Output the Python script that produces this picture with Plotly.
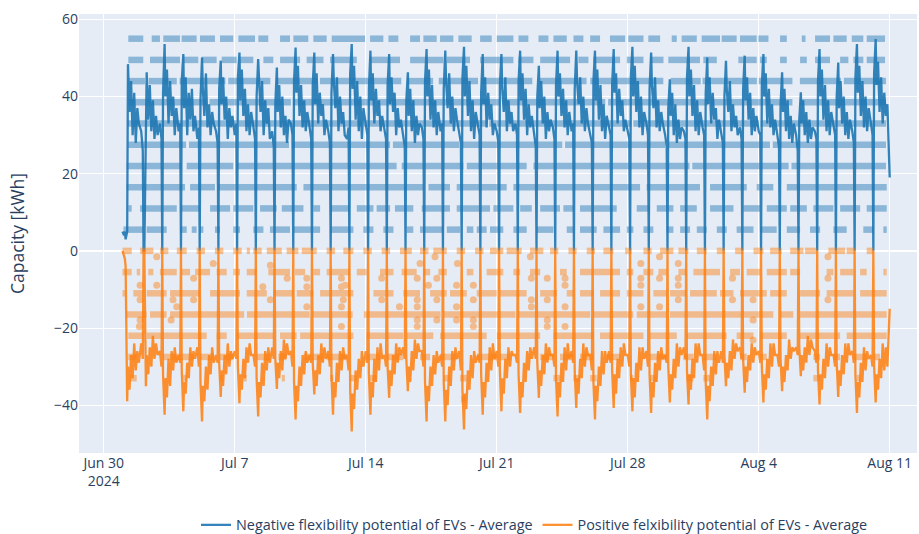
import pandas as pd
import plotly.graph_objects as go

BASE = pd.Timestamp("2024-07-01 00:00")
HOURS = [0, 2, 3, 4, 6, 7, 9, 11, 13, 15, 17, 19, 21]

# Negative flexibility potential (blue line), one row per day from Jul 1 to Aug 10
NEG_ROWS = [
    [5, 4, 5, 3, 5, 48.4, 36, 44, 30, 41, 28, 37, 33],
    [31, 26, 0, 0, 38, 46.3, 34, 43, 31, 39, 29, 35, 30],
    [33, 29, 0, 41, 53.6, 40, 47, 33, 44, 35, 40, 30, 37],
    [31, 33, 0, 44, 51.0, 37, 45, 30, 41, 34, 42, 31, 35],
    [29, 32, 0, 39, 50.1, 42, 35, 46, 32, 38, 30, 36, 33],
    [31, 28, 0, 42, 49.3, 38, 45, 34, 40, 29, 37, 32, 35],
    [30, 33, 0, 45, 51.4, 39, 47, 35, 42, 31, 38, 30, 36],
    [32, 29, 0, 40, 49.7, 43, 36, 44, 30, 39, 33, 37, 29],
    [31, 27, 0, 38, 47.5, 36, 43, 32, 40, 30, 35, 28, 34],
    [33, 30, 0, 44, 52.7, 41, 48, 35, 43, 32, 39, 31, 36],
    [32, 29, 0, 43, 51.4, 38, 46, 33, 41, 35, 38, 30, 34],
    [31, 28, 0, 41, 51.0, 44, 37, 45, 31, 40, 33, 36, 30],
    [29, 32, 0, 46, 53.6, 42, 48, 34, 44, 31, 40, 29, 37],
    [33, 30, 0, 42, 51.9, 39, 46, 33, 42, 35, 39, 31, 35],
    [31, 29, 0, 43, 51.0, 38, 45, 36, 41, 30, 37, 32, 34],
    [30, 27, 0, 39, 46.3, 35, 42, 31, 39, 28, 35, 30, 33],
    [32, 29, 0, 44, 52.3, 40, 47, 34, 43, 32, 39, 30, 36],
    [31, 33, 0, 42, 51.9, 44, 37, 46, 33, 40, 31, 37, 34],
    [30, 28, 0, 45, 52.9, 40, 48, 35, 44, 31, 39, 29, 36],
    [32, 30, 0, 41, 51.0, 38, 45, 32, 41, 34, 38, 30, 33],
    [31, 28, 0, 43, 51.0, 42, 36, 45, 31, 39, 33, 36, 31],
    [33, 30, 0, 44, 51.9, 39, 46, 34, 42, 30, 38, 32, 35],
    [30, 27, 0, 40, 48.0, 37, 44, 33, 40, 29, 36, 31, 34],
    [32, 29, 0, 43, 51.9, 40, 46, 35, 42, 32, 39, 30, 36],
    [31, 33, 0, 42, 51.9, 44, 38, 45, 33, 40, 31, 37, 33],
    [30, 28, 0, 44, 51.9, 39, 47, 34, 43, 31, 38, 29, 35],
    [32, 30, 0, 43, 52.3, 41, 46, 33, 42, 35, 39, 31, 34],
    [31, 29, 0, 45, 52.9, 40, 48, 36, 44, 32, 40, 30, 36],
    [33, 30, 0, 42, 51.4, 43, 37, 45, 32, 39, 31, 36, 33],
    [30, 27, 0, 37, 44.5, 35, 41, 30, 38, 28, 34, 29, 32],
    [31, 29, 0, 45, 52.9, 40, 47, 35, 43, 31, 39, 30, 36],
    [32, 30, 0, 41, 50.1, 38, 45, 33, 41, 34, 37, 29, 34],
    [30, 28, 0, 40, 49.3, 42, 36, 44, 31, 38, 32, 35, 30],
    [32, 29, 0, 42, 50.6, 39, 45, 34, 41, 30, 37, 31, 35],
    [31, 30, 0, 43, 51.0, 40, 46, 33, 42, 32, 38, 30, 34],
    [29, 27, 0, 38, 46.3, 36, 42, 31, 39, 29, 35, 28, 33],
    [30, 26, 0, 34, 41.1, 33, 39, 30, 36, 28, 34, 29, 32],
    [31, 29, 0, 44, 52.3, 40, 47, 34, 43, 31, 39, 30, 36],
    [32, 30, 0, 40, 48.8, 37, 44, 33, 40, 30, 36, 29, 34],
    [31, 28, 0, 45, 53.6, 41, 48, 35, 44, 32, 40, 31, 37],
    [33, 30, 0, 46, 54.9, 43, 49, 36, 45, 33, 41, 35, 38],
]
NEG_END = 19

# Positive flexibility potential (orange line)
POS_ROWS = [
    [0, -1, -2, -4, -39.0, -30, -36, -27, -33, -24, -31, -26, -29],
    [-24, -28, 0, 0, -35.1, -27, -32, -25, -30, -22, -28, -24, -27],
    [-26, -30, 0, -32, -42.5, -33, -38, -28, -35, -26, -31, -25, -29],
    [-27, -29, 0, -31, -41.6, -34, -37, -29, -33, -25, -30, -26, -28],
    [-25, -30, 0, -34, -44.2, -35, -39, -30, -36, -27, -32, -25, -29],
    [-27, -29, 0, -29, -37.9, -31, -35, -27, -32, -24, -30, -26, -28],
    [-26, -28, 0, -30, -39.5, -32, -36, -28, -33, -25, -29, -24, -27],
    [-27, -30, 0, -33, -42.9, -34, -38, -29, -35, -26, -31, -25, -29],
    [-25, -28, 0, -28, -35.8, -29, -33, -26, -31, -23, -28, -24, -27],
    [-26, -30, 0, -34, -43.7, -35, -39, -30, -35, -27, -32, -26, -29],
    [-27, -29, 0, -29, -37.2, -31, -35, -27, -32, -24, -29, -25, -28],
    [-26, -30, 0, -32, -42.5, -34, -38, -29, -34, -26, -31, -25, -28],
    [-27, -31, 0, -36, -46.8, -37, -41, -31, -36, -28, -33, -26, -30],
    [-26, -29, 0, -32, -42.5, -34, -38, -28, -34, -25, -31, -24, -28],
    [-27, -30, 0, -30, -38.1, -31, -35, -27, -32, -24, -29, -25, -27],
    [-25, -28, 0, -28, -36.4, -30, -34, -26, -31, -23, -28, -24, -26],
    [-26, -30, 0, -34, -44.2, -35, -39, -30, -35, -27, -32, -26, -29],
    [-27, -30, 0, -34, -44.2, -36, -40, -30, -35, -26, -31, -25, -28],
    [-26, -31, 0, -36, -46.3, -37, -41, -31, -36, -27, -33, -26, -29],
    [-27, -29, 0, -32, -42.5, -34, -38, -29, -34, -25, -31, -24, -28],
    [-26, -30, 0, -31, -41.6, -33, -37, -28, -33, -25, -30, -26, -27],
    [-27, -29, 0, -32, -42.0, -34, -38, -29, -34, -26, -31, -25, -28],
    [-25, -28, 0, -29, -38.1, -31, -35, -27, -32, -24, -29, -25, -27],
    [-27, -30, 0, -33, -42.9, -34, -38, -29, -34, -25, -31, -24, -28],
    [-26, -29, 0, -31, -40.7, -33, -37, -28, -33, -24, -30, -25, -27],
    [-27, -31, 0, -34, -43.7, -35, -39, -30, -35, -26, -32, -26, -29],
    [-26, -29, 0, -31, -40.7, -32, -37, -28, -33, -25, -30, -24, -27],
    [-27, -30, 0, -32, -41.6, -33, -38, -29, -34, -25, -31, -25, -28],
    [-26, -30, 0, -32, -42.0, -34, -38, -29, -34, -26, -31, -25, -28],
    [-27, -29, 0, -30, -39.3, -32, -36, -28, -33, -24, -30, -25, -27],
    [-25, -28, 0, -31, -39.8, -32, -36, -28, -33, -24, -29, -24, -27],
    [-27, -31, 0, -34, -43.7, -35, -39, -30, -35, -26, -32, -26, -29],
    [-26, -29, 0, -27, -35.1, -29, -33, -26, -31, -23, -28, -24, -26],
    [-25, -28, 0, -28, -36.8, -30, -34, -27, -31, -24, -29, -25, -27],
    [-26, -29, 0, -30, -39.3, -32, -36, -28, -33, -24, -30, -24, -27],
    [-27, -30, 0, -28, -36.4, -30, -34, -27, -31, -23, -28, -25, -26],
    [-25, -27, 0, -25, -32.5, -27, -31, -25, -29, -22, -27, -23, -25],
    [-26, -29, 0, -31, -39.8, -32, -36, -28, -33, -24, -30, -25, -27],
    [-27, -30, 0, -29, -37.9, -31, -35, -27, -32, -24, -29, -24, -27],
    [-26, -29, 0, -32, -42.0, -34, -38, -29, -34, -25, -31, -26, -28],
    [-27, -30, 0, -30, -39.3, -32, -36, -28, -33, -24, -31, -25, -30],
]
POS_END = -15

# Individual EV values (scatter dashes): (start day, end day) since Jul 1, per level
NEG_55 = [(0.31,1.11),(1.56,2.0),(2.18,3.07),(3.16,3.96),(4.14,4.94),(5.21,5.92),(6.19,7.08),(7.26,7.79),(8.42,8.95),(9.13,9.93),(10.2,10.91),(11.18,12.96),(13.23,13.94),(14.21,14.74),(15.37,15.9),(16.08,16.79),(16.97,17.68),(17.95,18.66),(19.11,19.73),(20.0,20.89),(21.16,21.69),(22.23,22.76),(23.03,23.74),(24.1,24.63),(24.99,25.52),(26.05,26.86),(27.03,27.84),(28.1,28.73),(29.35,29.62),(29.88,30.69),(30.95,31.93),(32.02,32.82),(33.0,33.89),(33.98,34.52),(35.14,35.5),(36.3,36.5),(37.01,37.81),(37.99,38.7),(38.97,39.59),(39.77,40.75)]
NEG_495 = [(0.31,1.11),(1.47,3.07),(3.25,4.05),(4.23,5.03),(5.3,6.1),(6.28,6.99),(7.53,8.06),(8.42,9.49),(9.84,10.74),(11.09,12.52),(13.23,14.83),(15.37,17.15),(17.33,18.57),(19.11,20.89),(21.16,21.96),(22.32,23.92),(24.36,24.9),(25.17,26.59),(26.95,27.84),(28.19,28.91),(29.17,30.86),(31.04,31.76),(32.91,33.89),(34.07,34.43),(35.14,35.5),(36.21,36.57),(37.01,37.81),(38.35,38.79),(39.06,39.59),(39.77,40.75)]
NEG_44 = [(0.31,1.2),(1.4,2.9),(3.05,5.5),(5.65,7.9),(8.2,10.4),(10.55,14.9),(15.2,16.6),(16.9,19.0),(19.15,21.9),(22.3,24.8),(25.0,28.9),(29.3,30.9),(31.0,33.9),(34.0,35.8),(36.2,38.4),(38.55,40.8)]
NEG_385 = [(0.31,4.5),(4.65,9.0),(9.1,13.5),(13.65,20.2),(20.35,25.8),(25.95,31.3),(31.45,35.8),(36.2,40.8)]
NEG_33 = [(0.25,6.1),(6.2,12.8),(12.9,19.5),(19.6,27.2),(27.3,34.0),(34.1,40.8)]
NEG_275 = [(0.3,3.4),(3.55,8.9),(9.05,14.3),(14.45,18.0),(18.15,23.5),(23.65,29.0),(29.15,34.6),(34.75,40.8)]
NEG_22 = [(0.22,3.16),(3.43,5.92),(6.1,14.65),(14.92,18.22),(18.4,21.6),(21.96,30.3),(30.45,35.6),(35.75,40.8)]
NEG_165 = [(0.22,3.34),(3.61,4.94),(5.12,9.31),(9.67,16.08),(16.35,17.5),(17.86,20.53),(20.89,27.66),(28.01,30.86),(31.4,33.36),(33.89,34.78),(35.5,40.84)]
NEG_11 = [(0.31,0.49),(0.94,2.9),(3.07,4.14),(4.68,5.75),(5.92,6.99),(7.35,8.24),(8.51,9.67),(10.2,10.56),(11.09,12.16),(12.52,13.41),(13.58,14.3),(14.56,15.54),(15.99,17.5),(17.86,19.64),(19.82,20.89),(21.25,21.87),(22.32,23.38),(23.56,24.1),(24.45,26.41),(27.48,28.19),(28.55,29.44),(29.8,30.69),(31.4,32.65),(33.18,34.07),(34.43,35.5),(35.68,36.57),(36.92,37.99),(38.35,39.42),(39.77,40.84)]
NEG_55B = [(0.05,1.11),(1.29,2.36),(3.07,3.43),(3.7,3.96),(4.14,4.32),(4.94,5.21),(5.92,6.28),(6.99,7.53),(7.88,8.95),(9.13,10.56),(11.09,12.34),(12.87,13.41),(13.94,14.48),(15.19,15.54),(15.9,17.15),(17.33,18.04),(18.4,18.75),(18.93,19.46),(19.64,20.35),(20.89,21.6),(22.14,23.03),(23.74,24.1),(24.45,25.34),(25.7,26.59),(26.95,27.3),(27.84,28.37),(29.08,29.44),(29.8,30.33),(30.69,31.22),(31.76,32.29),(32.82,33.72),(34.07,34.96),(35.5,36.21),(36.74,37.28),(37.99,38.7),(39.59,40.13),(40.66,40.84)]
NEG_LEVELS = [55, 49.5, 44, 38.5, 33, 27.5, 22, 16.5, 11, 5.5]
NEG_SEGMENTS = [NEG_55, NEG_495, NEG_44, NEG_385, NEG_33, NEG_275, NEG_22, NEG_165, NEG_11, NEG_55B]

POS_0 = [(0.0,0.49),(0.94,1.65),(2.0,2.45),(2.9,3.43),(3.96,4.41),(4.94,5.39),(5.92,6.37),(6.64,6.81),(6.99,7.44),(7.71,8.51),(8.77,9.4),(9.58,10.38),(10.91,11.36),(11.8,12.34),(12.87,13.32),(13.85,14.3),(14.83,15.46),(15.9,16.35),(16.61,17.33),(17.86,18.31),(18.84,19.29),(19.64,20.35),(20.53,21.33),(21.78,22.49),(22.85,23.29),(23.83,24.27),(24.81,25.25),(25.7,26.23),(26.86,27.21),(27.84,28.28),(28.73,29.44),(29.71,30.24),(30.69,31.22),(31.76,32.2),(32.74,33.18),(33.72,34.25),(34.61,35.23),(35.68,36.39),(36.48,37.1),(37.72,38.61),(38.7,39.15),(39.77,40.13)]
POS_55 = [(0.0,0.49),(0.76,0.94),(1.38,1.65),(2.0,2.9),(3.16,3.61),(3.88,4.68),(5.03,5.57),(5.92,6.28),(6.64,7.17),(7.79,8.95),(9.22,9.76),(10.2,10.56),(10.91,12.16),(12.52,13.05),(13.76,14.48),(14.92,15.72),(16.08,16.44),(16.88,17.33),(18.4,18.75),(19.46,20.35),(20.89,21.25),(21.78,22.32),(23.38,23.74),(24.45,26.59),(26.95,27.3),(27.84,28.37),(28.64,29.08),(29.71,30.15),(30.51,31.93),(32.47,33.0),(33.36,34.07),(34.43,35.5),(35.68,36.21),(37.63,37.99),(38.35,39.06),(39.42,39.77),(40.66,40.84)]
POS_11 = [(0.0,0.13),(0.58,1.11),(1.29,2.36),(2.54,4.14),(4.68,6.28),(6.64,7.71),(8.06,9.13),(9.31,10.2),(10.56,12.34),(13.41,14.48),(15.01,15.9),(16.44,17.33),(17.5,18.4),(18.93,20.0),(20.18,21.6),(22.32,23.21),(23.74,24.1),(24.45,25.17),(25.52,26.59),(26.95,27.84),(28.37,29.08),(29.26,30.15),(30.33,31.76),(31.93,32.65),(33.0,34.43),(34.61,35.5),(36.21,37.28),(37.63,39.06),(39.42,40.84)]
POS_165 = [(0.22,1.29),(1.47,2.36),(2.54,6.5),(6.65,10.0),(10.15,12.3),(12.9,17.0),(17.15,21.0),(21.15,25.0),(25.15,27.3),(27.48,29.08),(29.26,34.78),(35.14,35.85),(36.21,40.84)]
POS_22 = [(0.31,1.11),(1.29,4.5),(5.03,5.57),(6.1,8.06),(8.42,9.31),(9.49,12.34),(13.05,15.01),(15.19,16.61),(16.97,19.46),(20.0,22.32),(23.03,25.17),(25.52,27.84),(28.19,29.62),(30.15,32.29),(32.82,33.72),(34.07,35.5),(36.21,38.35),(38.7,40.84)]
POS_275 = [(0.31,0.76),(2.18,3.79),(4.14,4.86),(5.21,5.92),(7.17,7.88),(8.33,8.77),(9.67,10.74),(10.91,11.98),(13.05,13.76),(14.12,15.01),(15.9,16.44),(16.97,17.86),(18.93,20.0),(20.18,20.71),(22.32,23.03),(23.38,24.1),(24.45,25.17),(25.88,26.59),(28.19,29.08),(29.97,30.51),(31.04,31.76),(33.0,33.36),(34.07,34.43),(36.92,37.28),(37.99,38.35),(39.06,39.77),(40.13,40.48)]
POS_33 = [(0.4,0.76),(3.25,3.43),(5.21,5.39),(6.46,6.64),(8.51,8.68),(11.09,11.27),(12.16,12.52),(13.23,13.58),(17.15,17.5),(18.04,18.4),(23.03,23.38),(24.1,24.45),(24.99,25.34),(27.12,27.3),(28.19,28.55),(30.15,30.51),(31.04,31.4),(36.92,37.28),(39.24,39.42)]
POS_385 = [(18.1,18.35)]
POS_LEVELS = [0, -5.5, -11, -16.5, -22, -27.5, -33, -38.5]
POS_SEGMENTS = [POS_0, POS_55, POS_11, POS_165, POS_22, POS_275, POS_33, POS_385]

# Isolated orange points between the levels
POS_DOT_DAYS = [1.83, 0.94, 1.83, 0.94, 0.94, 0.9, 4.85, 2.7, 2.9, 2.6, 3.8, 3.8, 7.9, 7.9, 7.5, 8.8, 9.85, 9.85, 9.85, 11.7, 11.7, 11.7, 11.9, 11.8, 11.7, 13.85, 13.85, 14.8, 15.9, 15.75, 15.75, 15.75, 15.75, 15.75, 16.35, 16.8, 16.8, 16.8, 16.7, 17.9, 17.85, 17.85, 17.85, 18.75, 18.75, 18.75, 18.75, 21.8, 21.85, 21.85, 21.85, 22.7, 22.7, 22.7, 22.7, 23.65, 23.65, 23.65, 23.65, 27.7, 27.7, 27.7, 27.7, 28.7, 28.7, 28.7, 29.7, 29.7, 29.7, 29.7, 32.6, 32.6, 33.7, 33.7, 33.7, 37.7, 37.7, 37.7]
POS_DOT_VALUES = [-1.5, -8.9, -8.9, -12.7, -17.9, -19.6, -3.3, -12.7, -14.5, -17.9, -7.1, -12.7, -3.7, -12.7, -9.3, -7.1, -7.1, -9.3, -14.5, -7.1, -9.3, -14.5, -8.9, -12.7, -19.6, -7.1, -12.7, -14.5, -3.3, -7.1, -12.7, -14.5, -17.9, -19.6, -8.9, -7.1, -12.7, -17.9, -1.5, -3.3, -8.9, -14.5, -17.9, -8.9, -12.7, -17.9, -19.6, -1.5, -7.1, -12.7, -14.5, -7.1, -12.7, -17.9, -19.6, -7.1, -8.9, -14.5, -19.6, -3.3, -7.1, -8.9, -14.5, -1.5, -7.1, -14.5, -3.3, -7.1, -8.9, -12.7, -7.1, -12.7, -12.7, -17.9, -23.1, -1.5, -7.1, -12.7]

BLUE = "#1f77b4"
ORANGE = "#ff7f0e"


def day_to_time(d):
    return BASE + pd.Timedelta(days=d)


def build_line(rows, end_value):
    xs, ys = [], []
    for d, row in enumerate(rows):
        for h, v in zip(HOURS, row):
            xs.append(BASE + pd.Timedelta(days=d, hours=h))
            ys.append(v)
    xs.append(BASE + pd.Timedelta(days=len(rows)))
    ys.append(end_value)
    return xs, ys


def build_segments(levels, segments):
    xs, ys = [], []
    for lvl, segs in zip(levels, segments):
        for s, e in segs:
            xs += [day_to_time(s), day_to_time(e), None]
            ys += [lvl, lvl, None]
    return xs, ys


fig = go.Figure()

nx, ny = build_segments(NEG_LEVELS, NEG_SEGMENTS)
fig.add_trace(go.Scatter(x=nx, y=ny, mode="lines", line=dict(color=BLUE, width=6.5),
                         opacity=0.45, showlegend=False, hoverinfo="skip"))

lx, ly = build_line(NEG_ROWS, NEG_END)
fig.add_trace(go.Scatter(x=lx, y=ly, mode="lines", line=dict(color=BLUE, width=2.3),
                         opacity=0.9, name="Negative flexibility potential of EVs - Average"))

px_, py_ = build_segments(POS_LEVELS, POS_SEGMENTS)
fig.add_trace(go.Scatter(x=px_, y=py_, mode="lines", line=dict(color=ORANGE, width=6.5),
                         opacity=0.45, showlegend=False, hoverinfo="skip"))
fig.add_trace(go.Scatter(x=[day_to_time(d) for d in POS_DOT_DAYS], y=POS_DOT_VALUES,
                         mode="markers", marker=dict(color=ORANGE, size=7),
                         opacity=0.45, showlegend=False, hoverinfo="skip"))

ox, oy = build_line(POS_ROWS, POS_END)
fig.add_trace(go.Scatter(x=ox, y=oy, mode="lines", line=dict(color=ORANGE, width=2.3),
                         opacity=0.85, name="Positive felxibility potential of EVs - Average"))

fig.update_layout(
    template="plotly",
    width=919, height=534,
    margin=dict(l=79, r=2, t=14, b=81, autoexpand=False),
    font=dict(family="Open Sans, sans-serif", size=14, color="#2a3f5f"),
    legend=dict(orientation="h", x=0.1396, xanchor="left", y=-0.164, yanchor="middle",
                font=dict(size=14.4)),
    xaxis=dict(range=[pd.Timestamp("2024-06-28 16:12"), pd.Timestamp("2024-08-12 11:00")]),
    yaxis=dict(range=[-52.4, 61.4],
               title=dict(text="Capacity [kWh]", font=dict(size=17.5), standoff=24)),
)

fig.write_html("out.html", config={"displayModeBar": False},
               post_script="document.body.style.margin='0';document.body.style.overflow='hidden';")
